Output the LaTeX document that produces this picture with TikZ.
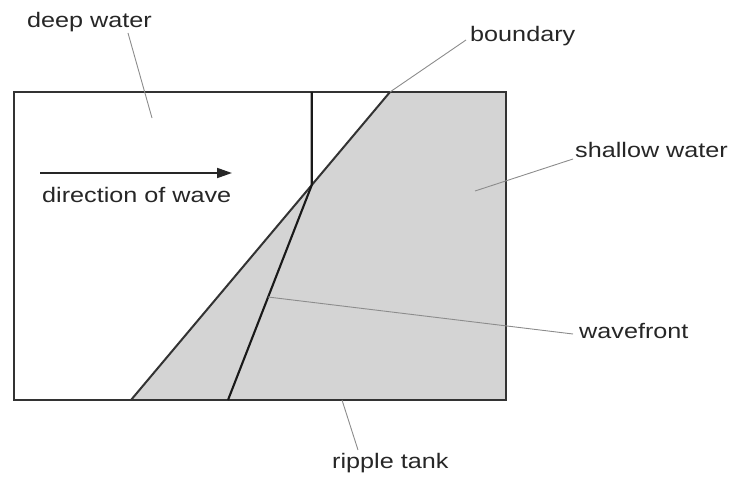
\documentclass[tikz,border=0pt]{standalone}
\usepackage{fontspec}
\setmainfont{Liberation Sans}[FakeStretch=1.2]
\usetikzlibrary{arrows.meta,calc}

\begin{document}
\begin{tikzpicture}[x=1pt,y=-1pt]
	\tikzstyle{tank}=[draw=black!80,line width=1.6pt]
	\tikzstyle{front}=[draw=black!90,line width=2.1pt]
	\tikzstyle{leader}=[draw=black!45,line width=0.9pt]
	\tikzstyle{lbl}=[anchor=base west,inner sep=0pt,text=black!85,font=\fontsize{21}{25}\selectfont]
	\useasboundingbox (0,0) rectangle (735,476);

  % tank corners and boundary
  \coordinate (t1) at (14,92);
  \coordinate (t2) at (506,92);
  \coordinate (t3) at (506,400);
  \coordinate (t4) at (14,400);
  \coordinate (b1) at (131,400);
  \coordinate (b2) at (390,92);
  \coordinate (w2) at ($(b1)!0.698!(b2)$);
  \coordinate (w1) at (w2 |- t1);
  \coordinate (w3) at (228,400);

  \fill [black!17] (b2) -- (t2) -- (t3) -- (b1) -- cycle;
  \draw [tank] (t1) rectangle (t3);
  \draw [tank,line width=2pt] (b1) to (b2);
  \draw [front] (w1) to (w2) to (w3);

		\path
    (27,28) node[lbl] (deep) {deep water}
    (42,202) node[lbl] (dir) {direction of wave}
    (470,42) node[lbl] (bound) {boundary}
    (575,157) node[lbl] (shallow) {shallow water}
    (579,338) node[lbl] (wave) {wavefront}
    (332,468) node[lbl] (tank) {ripple tank}
    %
    % leader ends
    (128,33) coordinate (l1) (152,118) coordinate (l1e)
    (466,40) coordinate (l2)
    (573,159) coordinate (l3) (475,191) coordinate (l3e)
    (573,334) coordinate (l4) (268,297) coordinate (l4e)
    (358,450) coordinate (l5) (342,400) coordinate (l5e)
    (40,173) coordinate (a1) (232,173) coordinate (a2)
    ;

  \draw [leader] (l1) to (l1e);
  \draw [leader] (l2) to (b2);
  \draw [leader] (l3) to (l3e);
  \draw [leader] (l4) to (l4e);
  \draw [leader] (l5) to (l5e);

  \draw [line width=1.8pt,black!85,-{Triangle[length=15pt,width=10pt]}] (a1) to (a2);

\end{tikzpicture}
\end{document}
